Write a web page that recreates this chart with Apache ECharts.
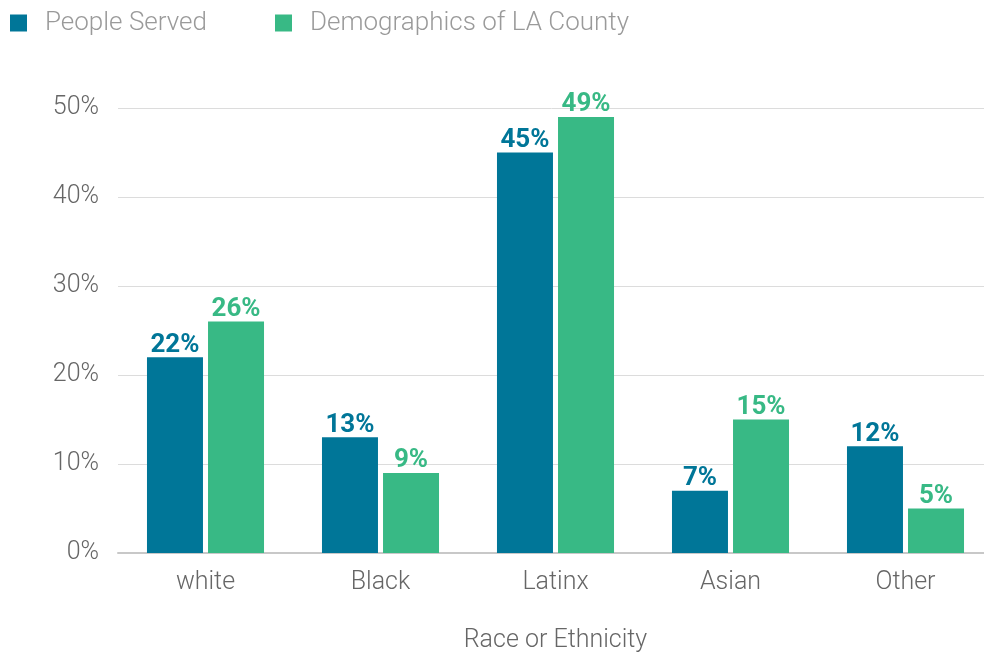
<!DOCTYPE html>
<html>
<head>
<meta charset="utf-8">
<script src="https://cdn.jsdelivr.net/npm/echarts@6/dist/echarts.min.js"></script>
<style>
  html, body { margin: 0; padding: 0; background: #fff; }
  #chart { width: 984px; height: 654px; }
</style>
</head>
<body>
<div id="chart"></div>
<script>
// Share of each group, in percent
const categories = ['white', 'Black', 'Latinx', 'Asian', 'Other'];
const peopleServed = [22, 13, 45, 7, 12];
const laCounty = [26, 9, 49, 15, 5];
const seriesNames = ['People Served', 'Demographics of LA County'];
const yTicks = [0, 10, 20, 30, 40, 50];

const BLUE = '#007698';
const GREEN = '#38b985';
const FONT = 'Roboto';

const chart = echarts.init(document.getElementById('chart'), null, { renderer: 'canvas' });

function valueLabel(color) {
  return {
    show: true,
    position: 'top',
    distance: -1,
    formatter: p => p.value + '%',
    color: color,
    fontFamily: FONT,
    fontWeight: 'bold',
    fontSize: 26
  };
}

chart.setOption({
  animation: false,
  textStyle: { fontFamily: FONT },
  legend: {
    left: 5,
    top: 5,
    itemWidth: 17,
    itemHeight: 17,
    itemGap: 68,
    icon: 'rect',
    textStyle: {
      color: '#9a9a9a',
      fontSize: 26,
      fontWeight: 300,
      fontFamily: FONT,
      padding: [0, 0, 0, 13]
    },
    data: seriesNames
  },
  // fixed plot box; the last group runs slightly past the right edge
  grid: { left: 118, right: -9, top: 108, bottom: 101, outerBoundsMode: 'none' },
  xAxis: {
    type: 'category',
    data: categories,
    name: 'Race or Ethnicity',
    nameLocation: 'middle',
    nameGap: 75,
    nameTextStyle: { color: '#666', fontSize: 25, fontWeight: 300, fontFamily: FONT },
    axisLine: { lineStyle: { color: '#c8c8c8', width: 2 } },
    axisTick: { show: false },
    axisLabel: { color: '#666', fontSize: 25, fontWeight: 300, fontFamily: FONT, margin: 17 }
  },
  yAxis: {
    type: 'value',
    min: yTicks[0],
    max: yTicks[yTicks.length - 1],
    interval: 10,
    axisLine: { show: false },
    axisTick: { show: false },
    splitLine: { lineStyle: { color: '#dcdcdc', width: 1 } },
    axisLabel: {
      color: '#666',
      fontSize: 25,
      fontWeight: 300,
      fontFamily: FONT,
      margin: 19,
      formatter: v => v + '%'
    }
  },
  series: [
    {
      name: seriesNames[0],
      type: 'bar',
      data: peopleServed,
      barWidth: 56,
      barGap: '9%',
      itemStyle: { color: BLUE },
      label: valueLabel(BLUE)
    },
    {
      name: seriesNames[1],
      type: 'bar',
      data: laCounty,
      barWidth: 56,
      barGap: '9%',
      itemStyle: { color: GREEN },
      label: valueLabel(GREEN)
    }
  ]
});
</script>
</body>
</html>
